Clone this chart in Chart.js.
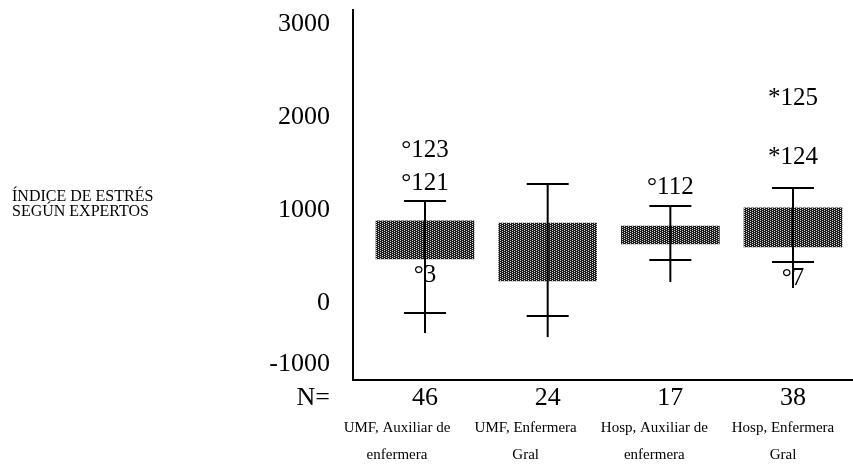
<!DOCTYPE html>
<html>
<head>
<meta charset="utf-8">
<script src="https://cdn.jsdelivr.net/npm/chart.js@4/dist/chart.umd.min.js"></script>
<style>
  html, body { margin: 0; background: #fff; }
  #wrap { width: 853px; height: 471px; position: relative; }
</style>
</head>
<body>
<div id="wrap"><canvas id="chart"></canvas></div>
<script>
// Boxplot: índice de estrés según expertos, por grupo
const groupLines = [
  ["UMF, Auxiliar de", "enfermera"],
  ["UMF, Enfermera", "Gral"],
  ["Hosp, Auxiliar de", "enfermera"],
  ["Hosp, Enfermera", "Gral"]
]
const counts = [46, 24, 17, 38]
const q1 = [473, 237, 634, 602]
const q3 = [882, 860, 828, 1022]
const upperWhisker = [1097, 1280, 1043, 1237]
const lowerWhisker = [-108, -140, 462, 441]
const lowerLineEnd = [-323, -366, 226, 161]

const outlierGroup = [0, 0, 0, 2, 3, 3, 3]
const outlierValue = [1645, 1290, 301, 1247, 2204, 1570, 269]
const outlierCase = ["123", "121", "3", "112", "125", "124", "7"]
const outlierMark = ["°", "°", "°", "°", "*", "*", "°"]

const yTicks = [3000, 2000, 1000, 0, -1000]
const yTitle = ["ÍNDICE DE ESTRÉS", "SEGÚN EXPERTOS"]

const SERIF = "'Liberation Serif', 'DejaVu Serif', serif"

function stipple () {
  const c = document.createElement("canvas")
  c.width = 4
  c.height = 4
  const g = c.getContext("2d")
  g.fillStyle = "#1c1c1c"
  g.fillRect(0, 0, 4, 4)
  g.fillStyle = "#d8d8d8"
  g.fillRect(0, 0, 1, 1)
  g.fillRect(2, 1, 1, 1)
  g.fillRect(0, 2, 1, 1)
  g.fillRect(2, 3, 1, 1)
  return g.createPattern(c, "repeat")
}

const noPad = scale => {
  scale.paddingTop = 0
  scale.paddingBottom = 0
  scale.paddingLeft = 0
  scale.paddingRight = 0
}

const whiskerSets = counts.map((_, i) => ({
  type: "line",
  data: [{ x: i, y: upperWhisker[i] }, { x: i, y: lowerLineEnd[i] }],
  borderColor: "#000",
  borderWidth: 2,
  pointRadius: 0,
  order: 0
}))

const capSet = {
  type: "scatter",
  data: counts.flatMap((_, i) => [{ x: i, y: upperWhisker[i] }, { x: i, y: lowerWhisker[i] }]),
  pointStyle: "line",
  pointRadius: 21,
  pointBorderWidth: 2,
  borderColor: "#000",
  backgroundColor: "#000",
  order: 0
}

const boxSet = {
  type: "bar",
  data: counts.map((_, i) => ({ x: i, y: [q1[i], q3[i]] })),
  backgroundColor: stipple(),
  borderWidth: 0,
  barThickness: 98,
  order: 1
}

const annotations = {
  id: "annotations",
  afterDraw (chart) {
    const { ctx, scales } = chart
    const x = scales.x
    const y = scales.y
    ctx.save()
    ctx.fillStyle = "#000"

    // outlier / extreme case labels
    ctx.font = "25px " + SERIF
    ctx.textAlign = "center"
    ctx.textBaseline = "middle"
    outlierValue.forEach((v, k) => {
      ctx.fillText(outlierMark[k] + outlierCase[k], x.getPixelForValue(outlierGroup[k]), y.getPixelForValue(v))
    })

    // N= row label
    ctx.font = "26px " + SERIF
    ctx.textAlign = "right"
    ctx.fillText("N=", y.right - 23, x.top + 3 + 15.6)

    // horizontal y title
    ctx.font = "16px " + SERIF
    ctx.textAlign = "left"
    yTitle.forEach((line, k) => ctx.fillText(line, 12, 197 + k * 15))
    ctx.restore()
  }
}

new Chart(document.getElementById("chart"), {
  type: "bar",
  data: { datasets: [boxSet, capSet, ...whiskerSets] },
  options: {
    responsive: true,
    maintainAspectRatio: false,
    animation: false,
    layout: { autoPadding: false, padding: { top: 10, left: 0, right: 0, bottom: 0 } },
    plugins: { legend: { display: false }, tooltip: { enabled: false } },
    scales: {
      y: {
        type: "linear",
        min: -828,
        max: 3150,
        grid: { display: false, drawTicks: false },
        border: { display: true, color: "#000", width: 2 },
        afterBuildTicks: scale => {
          scale.ticks = yTicks.map(v => ({ value: Math.max(scale.min, Math.min(scale.max, v)) }))
        },
        afterFit: scale => { scale.width = 353; noPad(scale) },
        ticks: {
          padding: 23,
          color: "#000",
          font: { family: SERIF, size: 26 },
          // the bottom label sits just above the axis corner, so give it an empty second line
          callback: (value, index) => yTicks[index] < value ? [String(yTicks[index]), ""] : String(yTicks[index])
        }
      },
      x: {
        type: "linear",
        position: "bottom",
        offset: false,
        min: -0.587,
        max: 3.489,
        grid: { display: false, drawTicks: false, offset: false },
        border: { display: true, color: "#000", width: 2 },
        afterBuildTicks: scale => { scale.ticks = counts.map((_, i) => ({ value: i })) },
        afterFit: scale => { scale.height = 35; noPad(scale) },
        ticks: {
          padding: 3,
          color: "#000",
          maxRotation: 0,
          autoSkip: false,
          font: { family: SERIF, size: 26 },
          callback: value => String(counts[value])
        }
      },
      x2: {
        type: "linear",
        position: "bottom",
        offset: false,
        min: -0.342,
        max: 3.544,
        grid: { display: false, drawTicks: false, offset: false },
        border: { display: false },
        afterBuildTicks: scale => { scale.ticks = groupLines.map((_, i) => ({ value: i })) },
        afterFit: scale => { scale.height = 56; noPad(scale) },
        ticks: {
          padding: 0,
          color: "#000",
          maxRotation: 0,
          autoSkip: false,
          font: { family: SERIF, size: 15, lineHeight: 1.8 },
          callback: value => groupLines[value]
        }
      }
    }
  },
  plugins: [annotations]
})
</script>
</body>
</html>
